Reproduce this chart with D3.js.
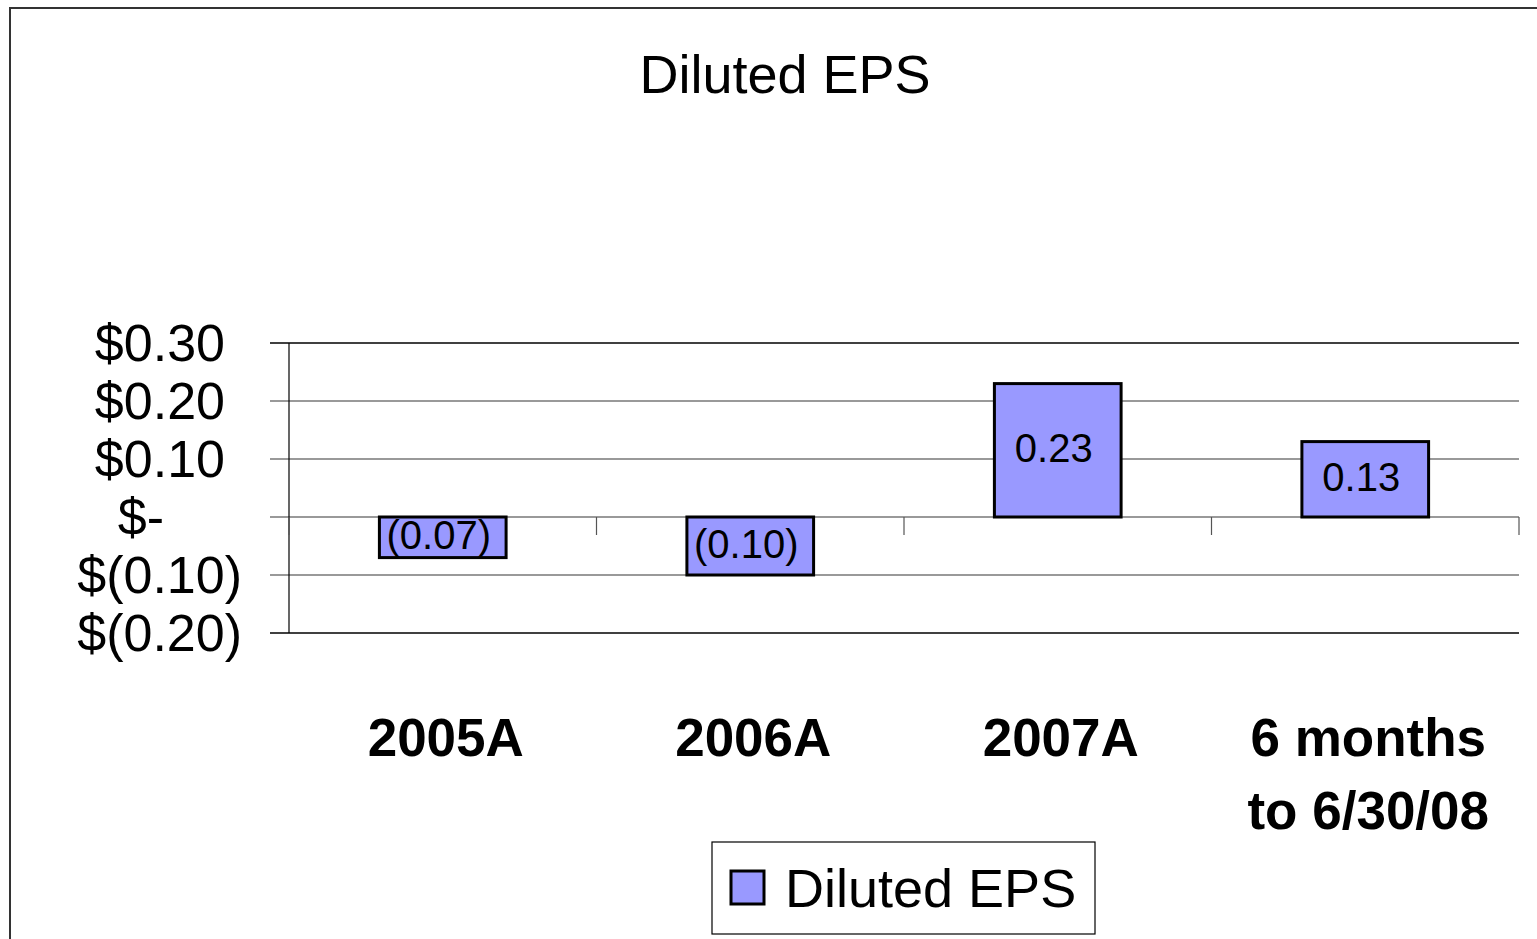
<!DOCTYPE html>
<html>
<head>
<meta charset="utf-8">
<script src="https://cdn.jsdelivr.net/npm/d3@7"></script>
<style>
  body { margin: 0; background: #fff; }
  svg { display: block; font-family: Arial, "Liberation Sans", sans-serif; }
</style>
</head>
<body>
<div id="chart"></div>
<script>
// chart data
var categories = ["2005A", "2006A", "2007A", "6 months\nto 6/30/08"];
var epsValues = [-0.07, -0.10, 0.23, 0.13];
var valueLabels = ["(0.07)", "(0.10)", "0.23", "0.13"];
var yTicks = [0.30, 0.20, 0.10, 0, -0.10, -0.20];
var yTickLabels = ["$0.30", "$0.20", "$0.10", "$-", "$(0.10)", "$(0.20)"];
var seriesName = "Diluted EPS";

var svgWidth = 1537;
var svgHeight = 939;
var plot = { left: 289, right: 1519, top: 343, bottom: 633 };

var svg = d3.select("#chart").append("svg")
    .attr("width", svgWidth)
    .attr("height", svgHeight);

// outer frame (runs off the right and bottom)
svg.append("rect")
    .attr("x", 10).attr("y", 8)
    .attr("width", svgWidth + 20).attr("height", svgHeight + 20)
    .attr("fill", "none")
    .attr("stroke", "#333")
    .attr("stroke-width", 2);

// title
svg.append("text")
    .attr("x", 785).attr("y", 93)
    .attr("text-anchor", "middle")
    .attr("font-size", "54px")
    .text("Diluted EPS");

// scales
var x = d3.scaleBand()
    .domain(categories)
    .range([plot.left, plot.right])
    .paddingInner(0.588)
    .paddingOuter(0.294);

var xCat = d3.scaleBand()
    .domain(categories)
    .range([plot.left, plot.right])
    .padding(0);

var y = d3.scaleLinear()
    .domain([-0.20, 0.30])
    .range([plot.bottom, plot.top]);

// gridlines, extending left past the axis as tick marks
svg.append("g").selectAll("line")
    .data(yTicks)
    .enter()
    .append("line")
    .attr("x1", 270).attr("x2", plot.right)
    .attr("y1", d => y(d)).attr("y2", d => y(d))
    .attr("stroke", (d, i) => (i === 0 || i === yTicks.length - 1) ? "#000" : "#777")
    .attr("stroke-width", 1.5);

// y tick labels (accounting style: closing paren hangs past the column)
svg.append("g").selectAll("text")
    .data(yTicks)
    .enter()
    .append("text")
    .attr("x", d => d < 0 ? 242 : (d === 0 ? 164 : 225))
    .attr("y", d => y(d) + 18)
    .attr("text-anchor", "end")
    .attr("font-size", "52px")
    .text((d, i) => yTickLabels[i]);

// vertical axis line
svg.append("line")
    .attr("x1", plot.left).attr("x2", plot.left)
    .attr("y1", plot.top).attr("y2", plot.bottom)
    .attr("stroke", "#000")
    .attr("stroke-width", 1.2);

// category ticks at the zero line
var boundaries = categories.map(c => xCat(c)).concat([plot.right]);
svg.append("g").selectAll("line")
    .data(boundaries)
    .enter()
    .append("line")
    .attr("x1", d => d).attr("x2", d => d)
    .attr("y1", y(0)).attr("y2", y(0) + 18)
    .attr("stroke", "#555")
    .attr("stroke-width", 1.2);

// bars
svg.append("g").selectAll("rect")
    .data(epsValues)
    .enter()
    .append("rect")
    .attr("x", (d, i) => x(categories[i]))
    .attr("y", d => y(Math.max(0, d)))
    .attr("width", x.bandwidth())
    .attr("height", d => Math.abs(y(d) - y(0)))
    .attr("fill", "#9999FF")
    .attr("stroke", "#000")
    .attr("stroke-width", 3);

// value labels
svg.append("g").selectAll("text")
    .data(epsValues)
    .enter()
    .append("text")
    .attr("x", (d, i) => x(categories[i]) + x.bandwidth() / 2 - 4)
    .attr("y", d => (y(d) + y(0)) / 2 + 12)
    .attr("text-anchor", "middle")
    .attr("font-size", "40px")
    .text((d, i) => valueLabels[i]);

// category labels
var catG = svg.append("g").selectAll("text")
    .data(categories)
    .enter()
    .append("text")
    .attr("x", d => xCat(d) + xCat.bandwidth() / 2 + 3)
    .attr("y", 756)
    .attr("text-anchor", "middle")
    .attr("font-size", "53px")
    .attr("font-weight", "bold");
catG.each(function(d) {
    var lines = d.split("\n");
    var t = d3.select(this);
    lines.forEach(function(line, k) {
        t.append("tspan")
            .attr("x", t.attr("x"))
            .attr("dy", k === 0 ? 0 : 73)
            .text(line);
    });
});

// legend
var legend = svg.append("g");
legend.append("rect")
    .attr("x", 712).attr("y", 842)
    .attr("width", 383).attr("height", 92)
    .attr("fill", "#fff")
    .attr("stroke", "#000")
    .attr("stroke-width", 1.2);
legend.append("rect")
    .attr("x", 731).attr("y", 871)
    .attr("width", 33).attr("height", 33)
    .attr("fill", "#9999FF")
    .attr("stroke", "#000")
    .attr("stroke-width", 3);
legend.append("text")
    .attr("x", 785).attr("y", 907)
    .attr("font-size", "54px")
    .text(seriesName);
</script>
</body>
</html>
